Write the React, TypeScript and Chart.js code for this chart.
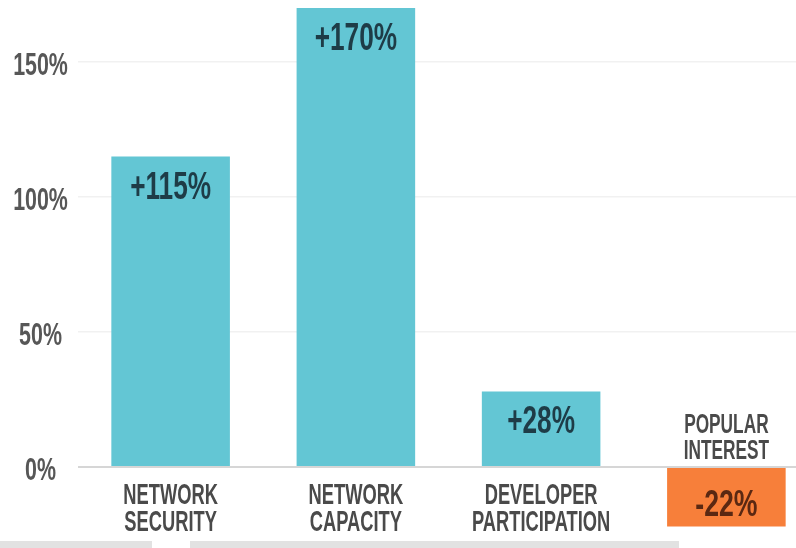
import React, { useEffect, useRef } from "react";
import { Chart, registerables } from "chart.js";

Chart.register(...registerables);

const categories: string[][] = [
  ["NETWORK", "SECURITY"],
  ["NETWORK", "CAPACITY"],
  ["DEVELOPER", "PARTICIPATION"],
  ["POPULAR", "INTEREST"],
];
const values: number[] = [115, 170, 28, -22];
const valueLabels: string[] = ["+115%", "+170%", "+28%", "-22%"];
const yTicks: number[] = [0, 50, 100, 150];

const TEAL = "#63c6d4";
const ORANGE = "#f77f3a";
const FONT = '"Liberation Sans", Arial, sans-serif';

function drawScaledText(
  ctx: CanvasRenderingContext2D,
  text: string,
  x: number,
  y: number,
  size: number,
  sx: number,
  color: string
) {
  ctx.save();
  ctx.translate(x, y);
  ctx.scale(sx, 1);
  ctx.font = `bold ${size}px ${FONT}`;
  ctx.fillStyle = color;
  ctx.textAlign = "center";
  ctx.textBaseline = "alphabetic";
  ctx.fillText(text, 0, 0);
  ctx.restore();
}

const labelPlugin = {
  id: "barLabels",
  afterDraw(chart: any) {
    const ctx = chart.ctx as CanvasRenderingContext2D;
    const yScale = chart.scales.y;
    yTicks.forEach((t) => {
      const py = yScale.getPixelForValue(t);
      drawScaledText(ctx, `${t}%`, 40.5, py + 12.5, 31, 0.69, "#575757");
    });
    const meta = chart.getDatasetMeta(0);
    meta.data.forEach((bar: any, i: number) => {
      const v = values[i];
      const x = bar.x;
      const base = bar.base;
      if (v >= 0) {
        drawScaledText(ctx, valueLabels[i], x, bar.y + 42, 38, 0.69, "#1e3c47");
        drawScaledText(ctx, categories[i][0], x, base + 38, 30, 0.61, "#4a4a4a");
        drawScaledText(ctx, categories[i][1], x, base + 65, 30, 0.61, "#4a4a4a");
      } else {
        drawScaledText(ctx, valueLabels[i], x, bar.y - 10, 36, 0.74, "#5a2812");
        drawScaledText(ctx, categories[i][0], x, base - 35, 27, 0.64, "#4a4a4a");
        drawScaledText(ctx, categories[i][1], x, base - 9, 27, 0.64, "#4a4a4a");
      }
    });
  },
};

export default function App() {
  const ref = useRef<HTMLCanvasElement | null>(null);

  useEffect(() => {
    if (!ref.current) return;
    const chart = new Chart(ref.current, {
      type: "bar",
      data: {
        labels: categories.map((c) => c.join(" ")),
        datasets: [
          {
            data: values,
            backgroundColor: values.map((v) => (v >= 0 ? TEAL : ORANGE)),
            borderWidth: 0,
            categoryPercentage: 1,
            barPercentage: 0.64,
          },
        ],
      },
      options: {
        animation: false,
        responsive: false,
        layout: { padding: 0 },
        plugins: {
          legend: { display: false },
          tooltip: { enabled: false },
          title: { display: false },
        },
        scales: {
          x: {
            display: false,
          },
          y: {
            min: -30,
            max: 173,
            border: { display: false },
            grid: {
              drawTicks: false,
              color: (c: any) => (c.tick && c.tick.value === 0 ? "#d6d6d6" : "#f1f1f1"),
              lineWidth: (c: any) => (c.tick && c.tick.value === 0 ? 2 : 1.5),
            },
            afterBuildTicks: (scale: any) => {
              scale.ticks = yTicks.map((v) => ({ value: v }));
            },
            afterFit: (scale: any) => {
              scale.width = 78;
              scale.paddingTop = 0;
              scale.paddingBottom = 0;
            },
            ticks: {
              display: false,
            },
          },
        },
      },
      plugins: [labelPlugin],
    });
    return () => chart.destroy();
  }, []);

  return (
    <div
      style={{
        position: "fixed",
        left: 0,
        top: 0,
        width: 796,
        height: 548,
        overflow: "hidden",
        background: "#ffffff",
      }}
    >
      <canvas ref={ref} width={819} height={548} style={{ display: "block" }} />
      <div
        style={{
          position: "absolute",
          left: 0,
          top: 541,
          width: 152,
          height: 7,
          background: "#e2e2e2",
        }}
      />
      <div
        style={{
          position: "absolute",
          left: 190,
          top: 541,
          width: 489,
          height: 7,
          background: "#e2e2e2",
        }}
      />
    </div>
  );
}
